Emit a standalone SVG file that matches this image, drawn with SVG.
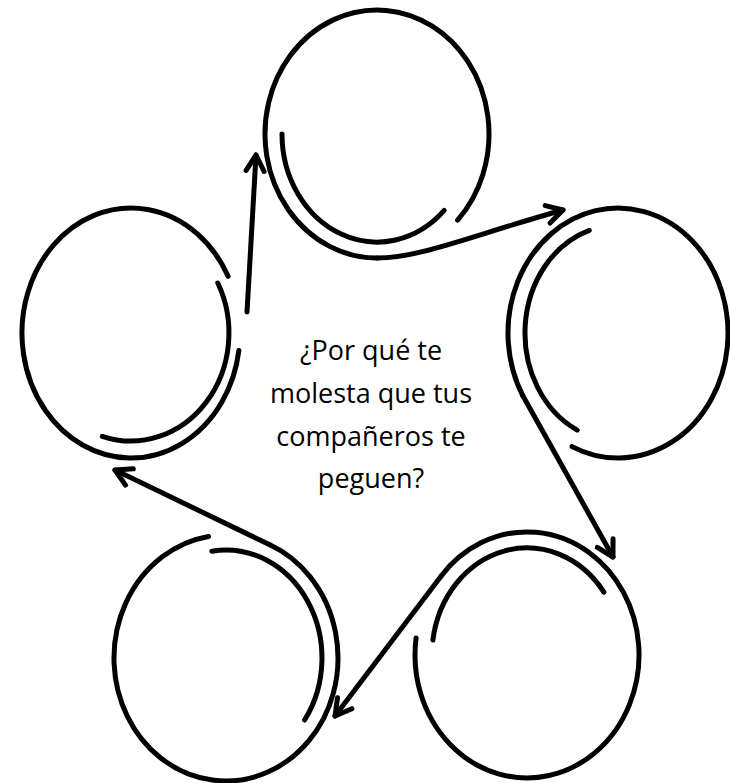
<svg xmlns="http://www.w3.org/2000/svg" width="730" height="783" viewBox="0 0 730 783">
<style>
.s{fill:none;stroke:#000;stroke-width:5;stroke-linecap:round;stroke-linejoin:round}
.t{font-family:"Open Sans","Noto Sans",sans-serif;font-size:27px;fill:#000;text-anchor:middle}
</style>
<defs>
<marker id="ah" markerUnits="userSpaceOnUse" markerWidth="40" markerHeight="40" viewBox="-20 -20 40 40" refX="0" refY="0" orient="auto" overflow="visible">
<path d="M -16 -9 L 0 0 L -16 9" fill="none" stroke="#000" stroke-width="5" stroke-linecap="round" stroke-linejoin="round"/>
</marker>
</defs>
<rect width="730" height="783" fill="#fff"/>
<g id="node-top">
<path class="s" d="M 457.6 220.1 A 112 124 0 1 0 377 258"/>
<path class="s" d="M 282 134 A 95 108 0 0 0 444.2 210.4"/>
</g>
<g id="node-right">
<path class="s" d="M 572 446.6 A 110 125 0 1 0 522.7 395.5"/>
<path class="s" d="M 589.3 230.3 A 93 108 0 0 0 577.2 430.1"/>
</g>
<g id="node-bottom-right">
<path class="s" d="M 416.1 637.9 A 112 123 0 1 0 441.2 575.9"/>
<path class="s" d="M 432.9 640.1 A 95 107 0 0 1 603.9 592.1"/>
</g>
<g id="node-bottom-left">
<path class="s" d="M 208.5 536.5 A 112 123 0 1 0 269.8 544.8"/>
<path class="s" d="M 211.8 551.2 A 96 108 0 0 1 304.6 720"/>
</g>
<g id="node-left">
<path class="s" d="M 228.1 276.3 A 109 125 0 1 0 238.9 350.4"/>
<path class="s" d="M 217.8 283 A 98 108 0 0 1 102.3 436.3"/>
</g>
<g id="connectors">
<path class="s" marker-end="url(#ah)" d="M 377 258 C 420 258 470 236 563 210"/>
<path class="s" marker-end="url(#ah)" d="M 522.7 395.5 L 613 557"/>
<path class="s" marker-end="url(#ah)" d="M 441.2 575.9 L 335 716"/>
<path class="s" marker-end="url(#ah)" d="M 269.8 544.8 L 115 470"/>
<path class="s" marker-end="url(#ah)" d="M 247 312 L 256 155"/>
</g>
<g id="center-text">
<text class="t" x="371" y="360">¿Por qué te</text>
<text class="t" x="371" y="403">molesta que tus</text>
<text class="t" x="371" y="446">compañeros te</text>
<text class="t" x="371" y="488">peguen?</text>
</g>
</svg>
